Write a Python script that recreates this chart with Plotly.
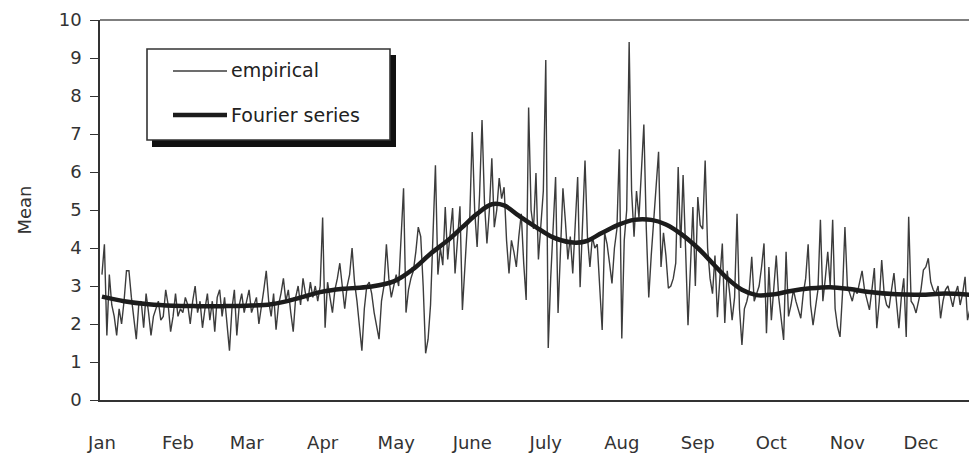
import plotly.graph_objects as go

# Daily mean values (day of year 1..365)
empirical = [
    3.3, 4.1, 1.7, 3.3, 2.5, 2.2, 1.7, 2.4, 2.0, 2.6,
    3.4, 3.4, 2.7, 2.2, 1.6, 2.5, 2.6, 1.9, 2.8, 2.3,
    1.7, 2.2, 2.4, 2.6, 2.1, 2.2, 2.9, 2.5, 1.8, 2.2,
    2.8, 2.2, 2.4, 2.3, 2.7, 2.5, 2.0, 2.6, 3.0, 2.3,
    2.6, 1.9, 2.4, 2.8, 2.1, 2.6, 1.8, 2.7, 2.9, 2.2,
    2.7, 2.0, 1.3, 2.4, 2.9, 1.7, 2.5, 2.8, 2.3, 2.6,
    2.9, 2.3, 2.5, 2.7, 2.0, 2.4, 2.9, 3.4, 2.6, 2.2,
    2.8, 1.85, 2.5, 2.8, 3.2, 2.6, 2.9, 2.3, 1.8, 2.7,
    3.0, 2.5, 3.2, 2.8, 2.6, 3.1, 2.7, 3.0, 2.6, 3.0,
    4.8, 1.9, 3.1, 2.7, 2.3, 2.9, 3.2, 3.6, 2.9, 2.4,
    3.0, 3.3, 4.0, 3.1, 2.6, 2.0, 1.3, 2.4, 3.0, 3.1,
    2.8, 2.3, 1.9, 1.6, 2.6, 3.0, 4.1, 3.2, 2.7, 3.0,
    3.3, 3.0, 4.2, 5.57, 2.3, 2.9, 3.2, 3.4, 3.9, 4.55,
    4.3, 3.0, 1.23, 1.6, 2.5, 4.5, 6.18, 3.3, 4.0, 3.55,
    5.08, 3.7, 4.4, 5.05, 3.33, 4.2, 5.1, 2.37, 3.6, 4.6,
    4.8, 7.05, 5.0, 4.03, 5.4, 7.37, 5.2, 4.12, 5.0, 6.36,
    4.55, 5.0, 5.84, 5.3, 5.6, 4.2, 3.33, 4.2, 3.9, 3.5,
    4.3, 4.9, 3.6, 2.63, 7.7, 5.0, 4.5, 5.97, 3.7, 4.6,
    5.5, 8.95, 1.37, 3.2, 4.4, 5.87, 2.29, 4.0, 5.57, 4.7,
    3.7, 4.3, 3.33, 4.6, 5.87, 2.97, 4.5, 6.3, 4.3, 3.5,
    4.3, 4.0, 4.1, 3.0, 1.84, 4.4, 4.1, 3.6, 3.07, 4.0,
    4.5, 6.6, 1.62, 4.2, 5.0, 9.42, 5.5, 4.3, 5.5, 4.8,
    6.0, 7.25, 4.5, 2.7, 3.8, 4.8, 5.5, 6.53, 3.5, 4.4,
    3.8, 2.94, 3.0, 3.2, 3.6, 6.13, 4.0, 5.92, 4.0, 1.97,
    3.5, 5.08, 3.0, 5.34, 4.6, 4.5, 6.3, 4.0, 3.2, 2.8,
    3.8, 2.18, 3.2, 4.12, 2.03, 3.4, 2.8, 2.1, 2.7, 4.9,
    2.4, 1.45, 2.4, 2.6, 2.9, 3.77, 2.6, 2.8, 3.0, 3.5,
    4.12, 1.76, 3.5, 2.1, 2.9, 3.8, 2.7, 2.2, 1.58, 3.9,
    2.2, 2.5, 2.9, 2.6, 2.4, 2.15, 2.8, 3.2, 4.1, 2.5,
    1.97, 2.5, 2.9, 4.74, 2.6, 3.2, 3.9, 3.0, 4.74, 2.4,
    1.92, 1.66, 2.8, 4.55, 3.0, 2.8, 2.6, 2.9, 2.8, 3.1,
    3.4, 2.9, 2.6, 2.37, 2.9, 3.47, 1.89, 2.6, 3.68, 2.8,
    2.5, 2.42, 2.9, 3.34, 2.6, 1.89, 2.7, 3.2, 1.66, 4.82,
    2.6, 2.5, 2.29, 2.6, 2.9, 3.42, 3.5, 3.73, 3.1, 2.9,
    2.8, 3.0, 2.15, 2.6, 2.9, 3.0, 2.7, 2.45, 2.8, 3.0,
    2.5, 2.8, 3.24, 2.1, 2.4, 3.1, 2.6, 2.9, 2.3, 2.8,
    3.2, 2.5, 2.7, 3.0, 2.6,
]
days = list(range(1, len(empirical) + 1))

# Fitted Fourier series, sampled at selected days
fourier_days = [1, 10, 20, 30, 40, 50, 60, 70, 80, 90, 100, 110, 120, 128,
                135, 142, 148, 154, 160, 165, 171, 178, 185, 192, 198, 205,
                212, 218, 225, 231, 237, 244, 250, 256, 262, 268, 275, 282,
                290, 298, 306, 314, 325, 335, 345, 355, 365]
fourier_vals = [2.72, 2.6, 2.52, 2.48, 2.47, 2.47, 2.48, 2.52, 2.66, 2.84,
                2.93, 2.98, 3.12, 3.45, 3.85, 4.2, 4.55, 4.9, 5.15, 5.12,
                4.85, 4.55, 4.28, 4.15, 4.17, 4.4, 4.62, 4.74, 4.74, 4.62,
                4.38, 4.0, 3.6, 3.2, 2.9, 2.76, 2.78, 2.87, 2.94, 2.97,
                2.92, 2.84, 2.78, 2.77, 2.8, 2.77, 2.72]

month_labels = ["Jan", "Feb", "Mar", "Apr", "May", "June", "July",
                "Aug", "Sep", "Oct", "Nov", "Dec"]
month_start_days = [1, 32, 60, 91, 121, 152, 182, 213, 244, 274, 305, 335]

W, H = 969, 457
ML, MR, MT, MB = 100, 0, 20, 57
FONT = "DejaVu Sans"

fig = go.Figure()
fig.add_trace(go.Scatter(
    x=days, y=empirical, mode="lines", name="empirical",
    line=dict(color="#3c3c3c", width=1.4), showlegend=False,
))
fig.add_trace(go.Scatter(
    x=fourier_days, y=fourier_vals, mode="lines", name="Fourier series",
    line=dict(color="#1c1c1c", width=4.5, shape="spline", smoothing=1.0),
    showlegend=False,
))


def px(x):
    return (x - ML) / (W - ML - MR)


def py(y):
    return (H - MB - y) / (H - MT - MB)


shapes = [
    # top border of the plot area
    dict(type="line", xref="paper", yref="paper", x0=0, x1=1, y0=1, y1=1,
         line=dict(color="#555555", width=1.6)),
    # legend box with drop shadow
    dict(type="rect", xref="paper", yref="paper",
         x0=px(152), x1=px(396), y0=py(147), y1=py(55),
         fillcolor="#111111", line=dict(width=0)),
    dict(type="rect", xref="paper", yref="paper",
         x0=px(147), x1=px(390), y0=py(140), y1=py(49),
         fillcolor="white", line=dict(color="#333333", width=1.6)),
    dict(type="line", xref="paper", yref="paper",
         x0=px(173), x1=px(227), y0=py(71), y1=py(71),
         line=dict(color="#3c3c3c", width=1.4)),
    dict(type="line", xref="paper", yref="paper",
         x0=px(173), x1=px(227), y0=py(115), y1=py(115),
         line=dict(color="#1c1c1c", width=4.5)),
]
annotations = [
    dict(text="empirical", xref="paper", yref="paper", x=px(229), y=py(70),
         xanchor="left", yanchor="middle", showarrow=False,
         font=dict(family=FONT, size=19, color="#222")),
    dict(text="Fourier series", xref="paper", yref="paper", x=px(229), y=py(115),
         xanchor="left", yanchor="middle", showarrow=False,
         font=dict(family=FONT, size=19, color="#222")),
]

fig.update_layout(
    width=W, height=H,
    margin=dict(l=ML, r=MR, t=MT, b=MB, pad=0),
    paper_bgcolor="white", plot_bgcolor="white",
    font=dict(family=FONT, size=18, color="#333"),
    shapes=shapes, annotations=annotations,
    xaxis=dict(
        range=[0.2, 354.6], tickmode="array",
        tickvals=month_start_days, ticktext=month_labels,
        showgrid=False, zeroline=False, ticks="",
        showline=True, linecolor="#333", linewidth=2,
        ticklabelstandoff=25, tickfont=dict(size=18),
    ),
    yaxis=dict(
        range=[0, 10], tickmode="array", tickvals=list(range(0, 11)),
        showgrid=False, zeroline=False,
        ticks="outside", ticklen=8, tickwidth=1.3, tickcolor="#333",
        showline=True, linecolor="#333", linewidth=1.5,
        ticklabelstandoff=5, tickfont=dict(size=18),
        title=dict(text="Mean", font=dict(size=18), standoff=22),
    ),
)

fig.write_html("out.html")
